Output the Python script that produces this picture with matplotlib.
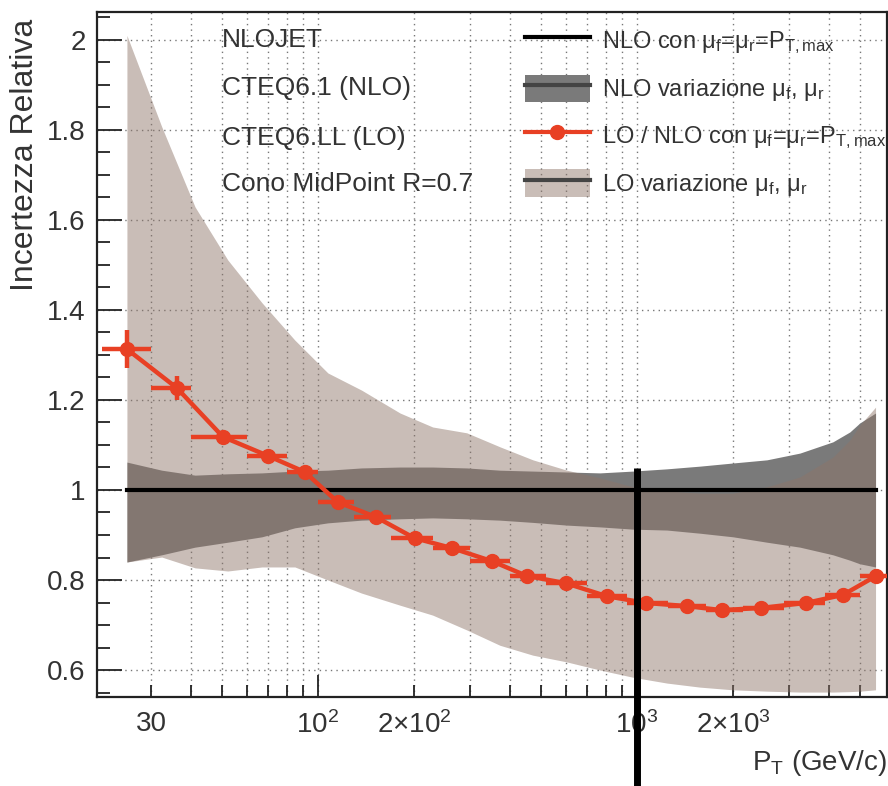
import matplotlib
matplotlib.use("Agg")
import matplotlib.pyplot as plt
from matplotlib.lines import Line2D
from matplotlib.patches import Patch
from matplotlib.ticker import FixedLocator
import numpy as np

plt.rcParams['font.family'] = ['Liberation Sans', 'DejaVu Sans']
plt.rcParams['mathtext.fontset'] = 'custom'
plt.rcParams['mathtext.rm'] = 'Liberation Sans'
plt.rcParams['mathtext.it'] = 'Liberation Sans'
plt.rcParams['mathtext.bf'] = 'Liberation Sans:bold'
plt.rcParams['mathtext.default'] = 'regular'

# LO/NLO ratio points (pT in GeV/c)
pt = [25.2, 36.1, 50.4, 69.7, 91, 115.5, 152, 201, 263, 351, 452, 598, 805,
      1067, 1435, 1846, 2448, 3390, 4430, 5620]
ratio = [1.313, 1.227, 1.118, 1.076, 1.04, 0.973, 0.94, 0.893, 0.871, 0.842,
         0.809, 0.793, 0.764, 0.749, 0.742, 0.733, 0.738, 0.749, 0.767, 0.809]
ratio_err = [0.042, 0.027, 0.014, 0.01, 0.01, 0.01, 0.01, 0.008, 0.008, 0.008,
             0.008, 0.008, 0.008, 0.008, 0.008, 0.008, 0.008, 0.008, 0.01, 0.015]
bin_edges = [21, 30, 40, 60, 80, 100, 130, 170, 230, 300, 400, 520, 700, 930,
             1250, 1650, 2150, 2900, 3900, 5000, 6400]

# scale variation bands
band_pt = [25.2, 32.4, 41.2, 52.2, 66.8, 84.7, 107.5, 137, 181, 229, 293, 372,
           472, 603, 766, 971, 1242, 1576, 2000, 2556, 3244, 4116, 4653, 5000, 5600]
lo_up = [2.01, 1.807, 1.629, 1.511, 1.416, 1.333, 1.26, 1.222, 1.171, 1.14,
         1.127, 1.096, 1.067, 1.044, 1.027, 1.007, 0.998, 0.993, 0.993, 1.007,
         1.029, 1.073, 1.111, 1.144, 1.184]
lo_dn = [0.84, 0.851, 0.827, 0.82, 0.829, 0.829, 0.80, 0.771, 0.744, 0.722,
         0.689, 0.655, 0.633, 0.618, 0.60, 0.584, 0.571, 0.562, 0.556, 0.553,
         0.551, 0.551, 0.552, 0.553, 0.556]
nlo_up = [1.062, 1.044, 1.033, 1.036, 1.038, 1.042, 1.044, 1.049, 1.051, 1.051,
          1.049, 1.044, 1.042, 1.04, 1.038, 1.042, 1.047, 1.053, 1.06, 1.067,
          1.082, 1.107, 1.129, 1.149, 1.171]
nlo_dn = [0.84, 0.856, 0.873, 0.884, 0.896, 0.916, 0.927, 0.933, 0.936, 0.938,
          0.936, 0.933, 0.928, 0.922, 0.918, 0.913, 0.911, 0.904, 0.896, 0.884,
          0.873, 0.856, 0.844, 0.836, 0.829]

vline_pt = 1000
vline_top = 1.048

xtick_major = [100, 1000]
xtick_minor = [30, 40, 50, 60, 70, 80, 90, 200, 300, 400, 500, 600, 700, 800,
               900, 2000, 3000, 4000, 5000]
minor_labels = {30: '30', 200: r'$2{\times}10^{2}$', 2000: r'$2{\times}10^{3}$'}

red = '#e84024'
nlo_color = '#7a7a7a'
lo_color = '#8e7569'
lo_alpha = 0.48
txt_color = '#333333'

fig = plt.figure(figsize=(8.88, 7.86), dpi=100)
ax = fig.add_axes([0.1092, 0.1132, 0.8896, 0.8715])
ax.set_xscale('log')
ax.set_xlim(20.3, 6080)
ax.set_ylim(0.54, 2.062)

pt_a = np.array(pt)
edges = np.array(bin_edges)
xerr = [pt_a - edges[:-1], edges[1:] - pt_a]

ax.fill_between(band_pt, nlo_dn, nlo_up, color=nlo_color, lw=0, zorder=1)
ax.fill_between(band_pt, lo_dn, lo_up, color=lo_color, alpha=lo_alpha, lw=0, zorder=2)
ax.plot([band_pt[0], band_pt[-1]], [1, 1], color='black', lw=3, zorder=3)
ax.errorbar(pt, ratio, xerr=xerr, yerr=ratio_err, color=red, lw=3.2,
            elinewidth=3.2, capsize=0, marker='o', ms=10, zorder=4)
ax.plot([vline_pt, vline_pt], [vline_top, 0.3], color='black', lw=5,
        clip_on=False, zorder=5, solid_capstyle='butt')

ax.xaxis.set_major_locator(FixedLocator(xtick_major))
ax.xaxis.set_minor_locator(FixedLocator(xtick_minor))
ax.set_xticklabels([r'$10^{2}$', r'$10^{3}$'])
ax.xaxis.set_minor_formatter(plt.FuncFormatter(lambda v, p: minor_labels.get(int(round(v)), '')))
ax.set_yticks(np.arange(0.6, 2.01, 0.2))
ax.set_yticklabels(['0.6', '0.8', '1', '1.2', '1.4', '1.6', '1.8', '2'])
ax.set_yticks(np.arange(0.55, 2.06, 0.05), minor=True)

ax.tick_params(axis='both', which='both', direction='in', labelsize=20,
               colors='#222222', labelcolor=txt_color, width=1.3)
ax.tick_params(axis='y', which='major', length=18, pad=8)
ax.tick_params(axis='y', which='minor', length=9)
ax.tick_params(axis='x', which='major', length=16, pad=10)
ax.tick_params(axis='x', which='minor', length=9, pad=10)

ax.grid(True, which='both', axis='x', color='#777777', lw=1, ls=(0, (1, 3)), zorder=0.5)
ax.grid(True, which='major', axis='y', color='#777777', lw=1, ls=(0, (1, 3)), zorder=0.5)
ax.set_axisbelow(True)
for s in ax.spines.values():
    s.set_linewidth(1.6)
    s.set_color('#222222')

fig.text(0.028, 0.803, 'Incertezza Relativa', rotation=90, ha='center', va='center',
         fontsize=23, color=txt_color)
fig.text(0.999, 0.029, r'P$_{T}$ (GeV/c)', ha='right', va='center', fontsize=20,
         color=txt_color)

info = ['NLOJET', 'CTEQ6.1 (NLO)', 'CTEQ6.LL (LO)', 'Cono MidPoint R=0.7']
info_y = [0.949, 0.888, 0.824, 0.766]
for t, yy in zip(info, info_y):
    fig.text(0.25, yy, t, ha='left', va='center', fontsize=19, color=txt_color)

handles = [
    Line2D([], [], color='black', lw=3),
    (Patch(facecolor=nlo_color, edgecolor='none'), Line2D([], [], color='#444444', lw=3)),
    Line2D([], [], color=red, lw=3, marker='o', ms=10),
    (Patch(facecolor=lo_color, alpha=lo_alpha, edgecolor='none'), Line2D([], [], color='#444444', lw=3)),
]
labels = [
    r'NLO con μ$_{f}$=μ$_{r}$=P$_{T,max}$',
    r'NLO variazione μ$_{f}$, μ$_{r}$',
    r'LO / NLO con μ$_{f}$=μ$_{r}$=P$_{T,max}$',
    r'LO variazione μ$_{f}$, μ$_{r}$',
]
leg = ax.legend(handles, labels, loc='upper left', bbox_to_anchor=(0.591, 0.966),
                bbox_transform=fig.transFigure, frameon=False, fontsize=17,
                handlelength=2.75, handleheight=1.4, handletextpad=0.5,
                labelspacing=0.78, borderpad=0, borderaxespad=0)
for t in leg.get_texts():
    t.set_color(txt_color)

fig.savefig('out.png', dpi=100)
